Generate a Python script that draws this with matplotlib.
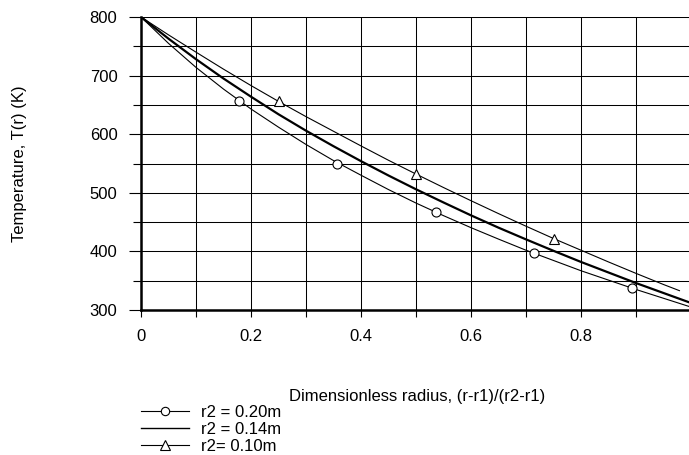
import matplotlib
matplotlib.use("Agg")
import matplotlib.pyplot as plt
from matplotlib.ticker import MultipleLocator

plt.rcParams['font.family'] = ['Liberation Sans', 'DejaVu Sans']

# Curves
x_grid = [0.0, 0.05, 0.10, 0.15, 0.20, 0.25, 0.30, 0.35, 0.40, 0.45, 0.50,
          0.55, 0.60, 0.65, 0.70, 0.75, 0.80, 0.85, 0.90, 0.95, 1.0]
t_r020 = [800, 755, 714, 677, 643, 612, 582.5, 555, 530, 505.5, 482.5,
          461, 440.5, 421, 402, 384.5, 367, 351, 335, 320, 305]
t_r014 = [800, 763, 728, 695, 664, 634, 606, 579.5, 554, 529.5, 506,
          483.5, 461.5, 440.5, 420.5, 401, 382, 364, 346, 329, 312]
x_r010 = [0.0, 0.05, 0.10, 0.15, 0.20, 0.25, 0.30, 0.35, 0.40, 0.45, 0.50,
          0.55, 0.60, 0.65, 0.70, 0.75, 0.80, 0.85, 0.90, 0.95, 0.979]
t_r010 = [800, 769.5, 740, 711, 683, 656, 630, 605, 580, 555.5, 532,
          509, 486.5, 464.5, 443, 422, 402, 382, 362.5, 343.5, 333]

# Marker positions
x_circ = [0.179, 0.357, 0.536, 0.714, 0.893]
t_circ = [657, 550, 467, 397, 337]
x_tri = [0.25, 0.50, 0.75]
t_tri = [656, 532, 422]

labels = ['r2 = 0.20m', 'r2 = 0.14m', 'r2= 0.10m']
xt = [0.0, 0.1, 0.2, 0.3, 0.4, 0.5, 0.6, 0.7, 0.8, 0.9, 1.0]
xl = ['0', '', '0.2', '', '0.4', '', '0.6', '', '0.8', '', '']

W, H = 689, 455
FS = 12
fig = plt.figure(figsize=(W / 100, H / 100), dpi=100)
ax = fig.add_axes([141 / W, 1 - 310 / H, 550 / W, 293 / H])

ax.plot(x_grid, t_r020, color='black', lw=0.8, zorder=3)
ax.plot(x_circ, t_circ, linestyle='none', marker='o', ms=6.5, mfc='white',
        mec='black', mew=0.8, zorder=4)
ax.plot(x_grid, t_r014, color='black', lw=1.6, zorder=3)
ax.plot(x_r010, t_r010, color='black', lw=0.8, zorder=3)
ax.plot(x_tri, t_tri, linestyle='none', marker='^', ms=7, mfc='white',
        mec='black', mew=0.8, zorder=4)

ax.set_xlim(0, 1.0)
ax.set_ylim(300, 800)

ax.set_xticks(xt)
ax.set_xticklabels(xl)
ax.yaxis.set_major_locator(MultipleLocator(100))
ax.yaxis.set_minor_locator(MultipleLocator(50))

ax.grid(True, which='both', color='black', lw=0.75, zorder=1)
ax.set_axisbelow(True)

for s in ['top', 'right']:
    ax.spines[s].set_visible(False)
for s in ['left', 'bottom']:
    ax.spines[s].set_linewidth(1.8)

ax.tick_params(axis='x', which='major', length=5, width=0.8, pad=9,
               labelsize=FS, direction='out')
ax.tick_params(axis='y', which='major', length=9, width=0.8, pad=8,
               labelsize=FS, direction='out')
ax.tick_params(axis='y', which='minor', length=6, width=0.8)

fig.text(20 / W, 1 - 163.5 / H, 'Temperature, T(r) (K)', rotation=90,
         ha='center', va='center', fontsize=FS)
fig.text(417 / W, 1 - 397 / H, 'Dimensionless radius, (r-r1)/(r2-r1)',
         ha='center', va='center', fontsize=FS)

h1, = ax.plot([], [], color='black', lw=0.8, marker='o', ms=6, mfc='white',
              mec='black', mew=0.8)
h2, = ax.plot([], [], color='black', lw=1.0)
h3, = ax.plot([], [], color='black', lw=0.8, marker='^', ms=6.5, mfc='white',
              mec='black', mew=0.8)
fig.legend([h1, h2, h3], labels, loc='upper left',
           bbox_to_anchor=(141 / W, 1 - 405 / H), frameon=False,
           borderpad=0, borderaxespad=0, handlelength=2.9,
           handletextpad=0.7, labelspacing=0.12, fontsize=FS, numpoints=1)

fig.savefig('out.png', dpi=100)
